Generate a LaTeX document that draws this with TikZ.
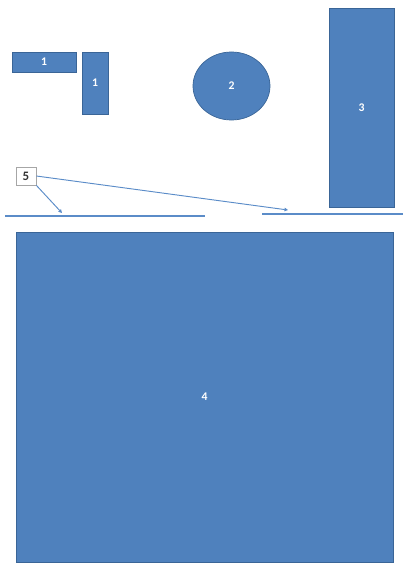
\documentclass[tikz,border=0pt]{standalone}
\usepackage{fontspec}
\setmainfont{Carlito}
\usepackage{tikz}
\usetikzlibrary{arrows.meta,shapes.geometric}

\definecolor{partfill}{HTML}{4F81BD}
\definecolor{partdraw}{HTML}{3A6597}
\definecolor{linecol}{HTML}{5B8CC8}

\begin{document}
\begin{tikzpicture}[
      x=0.03cm, y=-0.03cm,
      part/.style={rectangle, draw=partdraw, fill=partfill, line width=0.6pt,
            text=white, font=\fontsize{10}{11}\selectfont\bfseries, inner sep=0pt},
      round/.style={part, ellipse},
      callout/.style={rectangle, draw=black!35, fill=white, line width=0.6pt,
            text=black!80, font=\fontsize{11}{12}\selectfont\bfseries,
            minimum width=0.6cm, minimum height=0.54cm, inner sep=0pt},
      floor/.style={draw=linecol, line width=1.2pt},
      arrow/.style={-{Triangle[length=3pt,width=3pt]}, draw=linecol, line width=0.8pt}
]
      \useasboundingbox (0,0) rectangle (403,564);

      \node[part, minimum width=1.92cm, minimum height=0.6cm] (flat) at (44,62) {1};
      \node[part, minimum width=0.78cm, minimum height=1.86cm] (upright) at (95,83) {1};
      \node[round, minimum width=2.31cm, minimum height=2.04cm] (disc) at (231.5,86) {2};
      \node[part, minimum width=1.95cm, minimum height=5.97cm] (tower) at (361.5,107.5) {3};
      \node[part, minimum width=11.31cm, minimum height=9.9cm] (base) at (204.5,397) {4};
      \node[callout] (lbl) at (26,176) {5};

      % the two floor lines
      \coordinate (leftA) at (5,216);
      \coordinate (leftB) at (205,216);
      \coordinate (rightA) at (262,214);
      \coordinate (rightB) at (403,214);
      \draw[floor] (leftA) -- (leftB);
      \draw[floor] (rightA) -- (rightB);

      \coordinate (hitL) at (62,213);
      \coordinate (hitR) at (288,210);
      \draw[arrow] (lbl.south east) -- (hitL);
      \draw[arrow] (lbl.east) -- (hitR);
\end{tikzpicture}
\end{document}
